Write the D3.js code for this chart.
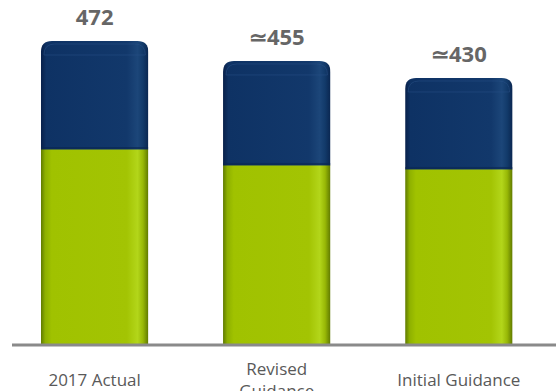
<!DOCTYPE html>
<html><head><meta charset="utf-8">
<script src="https://cdn.jsdelivr.net/npm/d3@7"></script>
<style>html,body{margin:0;padding:0;background:#fff;overflow:hidden}</style>
</head><body>
<svg id="c" width="556" height="391"></svg>
<script>
const categories = ["2017 Actual", "Revised\nGuidance", "Initial Guidance"];
const lowerValues = [304.3, 279.5, 273.3];
const upperValues = [167.7, 161.5, 141.3];
const totalLabels = ["472", "\u2243455", "\u2243430"];

const svg = d3.select("#c");
const W = 556, H = 391;
const baseY = 345, topY = 41;

const x = d3.scaleBand().domain(categories).range([4.5, 549]).paddingInner(0.41).paddingOuter(0.2);
const yMax = d3.max(lowerValues.map((v, i) => v + upperValues[i]));
const y = d3.scaleLinear().domain([0, yMax]).range([baseY, topY]);

const defs = svg.append("defs");
function grad(id, stops) {
  const g = defs.append("linearGradient").attr("id", id).attr("x1", "0").attr("x2", "1").attr("y1", "0").attr("y2", "0");
  stops.forEach(s => g.append("stop").attr("offset", s[0]).attr("stop-color", s[1]));
}
grad("gGreen", [[0, "#5f7a00"], [0.04, "#8eb000"], [0.10, "#a0c200"], [0.80, "#a3c403"], [0.90, "#b3d61a"], [0.95, "#98b806"], [1, "#5f7800"]]);
grad("gBlue", [[0, "#08204a"], [0.05, "#0e3264"], [0.80, "#12386b"], [0.90, "#1c4679"], [0.95, "#123a6a"], [1, "#0a2650"]]);

const stack = categories.map((c, i) => ({c, lo: lowerValues[i], hi: upperValues[i], label: totalLabels[i]}));
const r = 11;
function barPath(x0, w, yTop, yBot) {
  return `M${x0},${yBot}L${x0},${yTop + r}Q${x0},${yTop} ${x0 + r},${yTop}L${x0 + w - r},${yTop}Q${x0 + w},${yTop} ${x0 + w},${yTop + r}L${x0 + w},${yBot}Z`;
}

stack.forEach((d, i) => {
  const x0 = x(d.c), w = x.bandwidth();
  const yTop = y(d.lo + d.hi), ySplit = y(d.lo), yBot = y(0);
  const cid = "clip" + i;
  defs.append("clipPath").attr("id", cid).append("path").attr("d", barPath(x0, w, yTop, yBot));
  const g = svg.append("g").attr("clip-path", `url(#${cid})`);
  g.append("rect").attr("x", x0).attr("y", ySplit).attr("width", w).attr("height", yBot - ySplit).attr("fill", "url(#gGreen)");
  g.append("rect").attr("x", x0).attr("y", yTop).attr("width", w).attr("height", ySplit - yTop + 0.5).attr("fill", "url(#gBlue)");
  g.append("rect").attr("x", x0).attr("y", ySplit - 2).attr("width", w).attr("height", 2).attr("fill", "#0a2650").attr("opacity", 0.6);
  // top soft rim
  g.append("path").attr("d", barPath(x0 + 3, w - 6, yTop + 3, yTop + 14)).attr("fill", "none").attr("stroke", "#2a5288").attr("stroke-width", 1).attr("opacity", 0.5);

  svg.append("text").attr("x", x0 + w / 2).attr("y", yTop - 16)
    .attr("text-anchor", "middle").attr("font-family", "Open Sans, sans-serif")
    .attr("font-weight", "bold").attr("font-size", 22).attr("fill", "#666666").text(d.label);
});

// axis baseline
const xAxis = d3.axisBottom(x).tickSize(0).tickFormat("");
const ax = svg.append("g").attr("transform", `translate(0,${baseY})`).call(xAxis);
ax.select(".domain").attr("d", `M12,0H556`).attr("stroke", "#8a8a8a").attr("stroke-width", 3);

// category labels
stack.forEach((d, i) => {
  const lines = d.c.split("\n");
  const cx = x(d.c) + x.bandwidth() / 2;
  const t = svg.append("text").attr("text-anchor", "middle")
    .attr("font-family", "Open Sans, sans-serif").attr("font-size", 17).attr("fill", "#595959");
  const y0 = lines.length > 1 ? 375 : 386;
  lines.forEach((l, j) => t.append("tspan").attr("x", cx).attr("y", y0 + j * 22).text(l));
});
</script>
</body></html>
